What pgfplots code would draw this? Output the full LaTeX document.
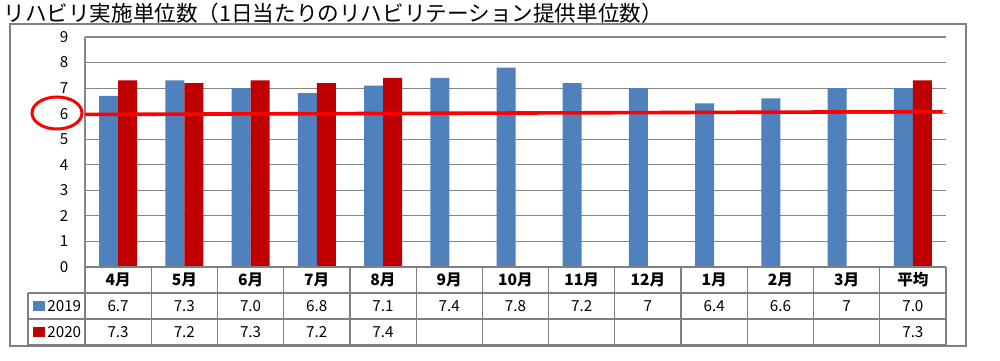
\documentclass[border=0pt]{standalone}
\usepackage{pgfplots}
\pgfplotsset{compat=1.18}
\usepackage{fontspec}
\setmainfont{Noto Sans CJK JP}
\definecolor{cblue}{HTML}{4F81BD}
\definecolor{cred}{HTML}{C00000}
\definecolor{gridgray}{HTML}{868686}
\definecolor{linegray}{HTML}{808080}
\begin{document}
\begin{tikzpicture}
\begin{scope}[x=0.5pt,y=0.5pt]
\path[fill=white,use as bounding box] (0,0) rectangle (1000,360);
% outer frame
\draw[linegray,line width=0.6pt] (10,336) rectangle (966,14);
% title
\node[anchor=base west,inner sep=0pt,font=\fontsize{10.8pt}{12pt}\selectfont] at (3,339) {リハビリ実施単位数（1日当たりのリハビリテーション提供単位数）};
\end{scope}
\begin{axis}[
  at={(42.5pt,46.5pt)}, anchor=south west,
  scale only axis, width=430.5pt, height=115pt,
  xmin=-0.5, xmax=12.5, ymin=0, ymax=9,
  ytick={0,...,9}, xtick=\empty,
  axis y line*=left, axis x line=none,
  axis line style={gridgray,line width=0.6pt},
  ymajorgrids, grid style={gridgray,line width=0.6pt},
  major tick length=0pt,
  /pgf/number format/assume math mode=true,
  yticklabel style={font=\fontsize{7.6pt}{9pt}\selectfont, anchor=center, xshift=-10.5pt},
  clip=false,
]
\addplot[ybar, bar width=9.5pt, bar shift=-4.75pt, fill=cblue, draw=none] coordinates {
 (0,6.7) (1,7.3) (2,7.0) (3,6.8) (4,7.1) (5,7.4) (6,7.8) (7,7.2) (8,7.0) (9,6.4) (10,6.6) (11,7.0) (12,7.0)};
\addplot[ybar, bar width=9.5pt, bar shift=4.75pt, fill=cred, draw=none] coordinates {
 (0,7.3) (1,7.2) (2,7.3) (3,7.2) (4,7.4) (12,7.3)};
\addplot[red, line width=1.8pt, no markers] coordinates {(-0.5,5.97) (12.45,6.08)};
\end{axis}
\begin{scope}[x=0.5pt,y=0.5pt]
% circle around 6
\draw[red,line width=1.5pt] (57,247) ellipse [x radius=12.5pt, y radius=8pt];
% data table
\begin{scope}[linegray,line width=0.6pt]
\draw (85,93) -- (946,93);
\draw (28,67) -- (946,67);
\draw (28,41) -- (946,41);
\draw (28,15) -- (946,15);
\draw (28,67) -- (28,15);
\foreach \i in {0,...,13} { \draw ({85+\i*66.23},93) -- ({85+\i*66.23},15); }
\end{scope}
\foreach \lab [count=\i from 0] in {4月,5月,6月,7月,8月,9月,10月,11月,12月,1月,2月,3月,平均} {
  \node[font=\bfseries\fontsize{7.8pt}{9pt}\selectfont] at ({85+\i*66.23+33.1},80) {\lab};
}
\foreach \v [count=\i from 0] in {6.7,7.3,7.0,6.8,7.1,7.4,7.8,7.2,7,6.4,6.6,7,7.0} {
  \node[font=\fontsize{7.6pt}{9pt}\selectfont] at ({85+\i*66.23+33.1},54) {\v};
}
\foreach \v [count=\i from 0] in {7.3,7.2,7.3,7.2,7.4} {
  \node[font=\fontsize{7.6pt}{9pt}\selectfont] at ({85+\i*66.23+33.1},28) {\v};
}
\node[font=\fontsize{7.6pt}{9pt}\selectfont] at ({85+12*66.23+33.1},28) {7.3};
% legend keys
\fill[cblue] (33,59) rectangle (45,49);
\fill[cred] (33,33) rectangle (45,23);
\node[anchor=west,inner sep=0pt,font=\fontsize{7.6pt}{9pt}\selectfont] at (47,54) {2019};
\node[anchor=west,inner sep=0pt,font=\fontsize{7.6pt}{9pt}\selectfont] at (47,28) {2020};
\end{scope}
\end{tikzpicture}
\end{document}
